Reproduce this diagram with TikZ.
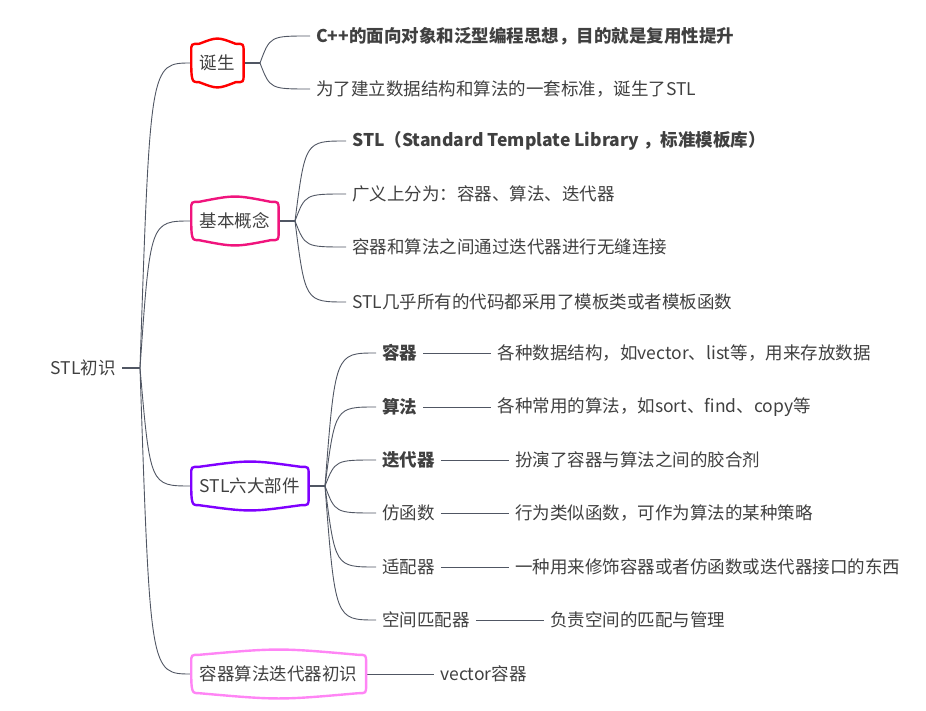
\documentclass[tikz,border=0pt]{standalone}
\usepackage{fontspec}
\setmainfont{Noto Sans CJK SC}
\usetikzlibrary{calc,positioning}
\definecolor{textc}{HTML}{404040}
\definecolor{linec}{HTML}{505663}
\definecolor{birthc}{HTML}{FF0000}
\definecolor{basec}{HTML}{F0147D}
\definecolor{partc}{HTML}{7F00FF}
\definecolor{introc}{HTML}{FF85F5}

\begin{document}
\begin{tikzpicture}[x=1pt,y=-1pt,text=textc,
    every node/.style={font=\fontsize{17.5}{21}\selectfont},
    main node/.style={minimum height=38pt,inner xsep=8.5pt},
    sub node/.style={anchor=west,inner xsep=6pt,inner ysep=2pt},
    key node/.style={sub node,font=\fontsize{17.5}{21}\selectfont\bfseries},
    link/.style={draw=linec,line width=0.9pt,
        to path={let \p1=(\tikztostart), \p2=(\tikztotarget) in
            .. controls ({\x1+0.2*(\x2-\x1)},\y2) .. (\tikztotarget)}},
    stub/.style={draw=linec,line width=2pt},
    bar/.style={draw=linec,line width=0.9pt}]
    \useasboundingbox (0,0) rectangle (926,711);

    \node[anchor=east,inner xsep=6pt] (root) at (122,368) {STL初识};
    \coordinate (b0) at (140,368);

    \node[main node,anchor=west] (t1) at (191.2,63) {诞生};
    \node[main node,anchor=west] (t2) at (191.2,221) {基本概念};
    \node[main node,anchor=west] (t3) at (191.2,486) {STL六大部件};
    \node[main node,anchor=west] (t4) at (191.2,674) {容器算法迭代器初识};

    \coordinate (b1) at (260,63);
    \coordinate (b2) at (295,221);
    \coordinate (b3) at (325,486);

    \node[key node] (c11) at (310,36) {C++的面向对象和泛型编程思想，目的就是复用性提升};
    \node[sub node] (c12) at (310,89) {为了建立数据结构和算法的一套标准，诞生了STL};

    \node[key node] (c21) at (346,141) {STL（Standard Template Library ，标准模板库）};
    \node[sub node] (c22) at (346,194) {广义上分为：容器、算法、迭代器};
    \node[sub node] (c23) at (346,247) {容器和算法之间通过迭代器进行无缝连接};
    \node[sub node] (c24) at (346,302) {STL几乎所有的代码都采用了模板类或者模板函数};

    \node[key node] (c31) at (376,353) {容器};
    \node[key node] (c32) at (376,407) {算法};
    \node[key node] (c33) at (376,460) {迭代器};
    \node[sub node] (c34) at (376,513) {仿函数};
    \node[sub node] (c35) at (376,567) {适配器};
    \node[sub node] (c36) at (376,620) {空间匹配器};

    \node[sub node,right=68pt of c31] (d31) {各种数据结构，如vector、list等，用来存放数据};
    \node[sub node,right=68pt of c32] (d32) {各种常用的算法，如sort、find、copy等};
    \node[sub node,right=68pt of c33] (d33) {扮演了容器与算法之间的胶合剂};
    \node[sub node,right=68pt of c34] (d34) {行为类似函数，可作为算法的某种策略};
    \node[sub node,right=68pt of c35] (d35) {一种用来修饰容器或者仿函数或迭代器接口的东西};
    \node[sub node,right=68pt of c36] (d36) {负责空间的匹配与管理};
    \node[sub node,right=68pt of t4] (d41) {vector容器};

    \path[stub] (root) -- (b0) (t1) -- (b1) (t2) -- (b2) (t3) -- (b3);

    \path
        (b0) edge[link] (t1.west) edge[link] (t2.west)
             edge[link] (t3.west) edge[link] (t4.west)
        (b1) edge[link] (c11.west) edge[link] (c12.west)
        (b2) edge[link] (c21.west) edge[link] (c22.west)
             edge[link] (c23.west) edge[link] (c24.west)
        (b3) edge[link] (c31.west) edge[link] (c32.west) edge[link] (c33.west)
             edge[link] (c34.west) edge[link] (c35.west) edge[link] (c36.west);

    \path[bar]
        (c31) -- (d31) (c32) -- (d32) (c33) -- (d33)
        (c34) -- (d34) (c35) -- (d35) (c36) -- (d36)
        (t4) -- (d41);

    \foreach \n/\c in {t1/birthc,t2/basec,t3/partc,t4/introc}
        \draw[\c,line width=2.4pt]
            ($(\n.north west)+(0,8)$)
            .. controls (\n.north west) .. ($(\n.north west)+(8,0)$)
            .. controls ($(\n.north)+(0,-7)$) .. ($(\n.north east)+(-8,0)$)
            .. controls (\n.north east) .. ($(\n.north east)+(0,8)$)
            -- ($(\n.south east)+(0,-8)$)
            .. controls (\n.south east) .. ($(\n.south east)+(-8,0)$)
            .. controls ($(\n.south)+(0,7)$) .. ($(\n.south west)+(8,0)$)
            .. controls (\n.south west) .. cycle;
\end{tikzpicture}
\end{document}
